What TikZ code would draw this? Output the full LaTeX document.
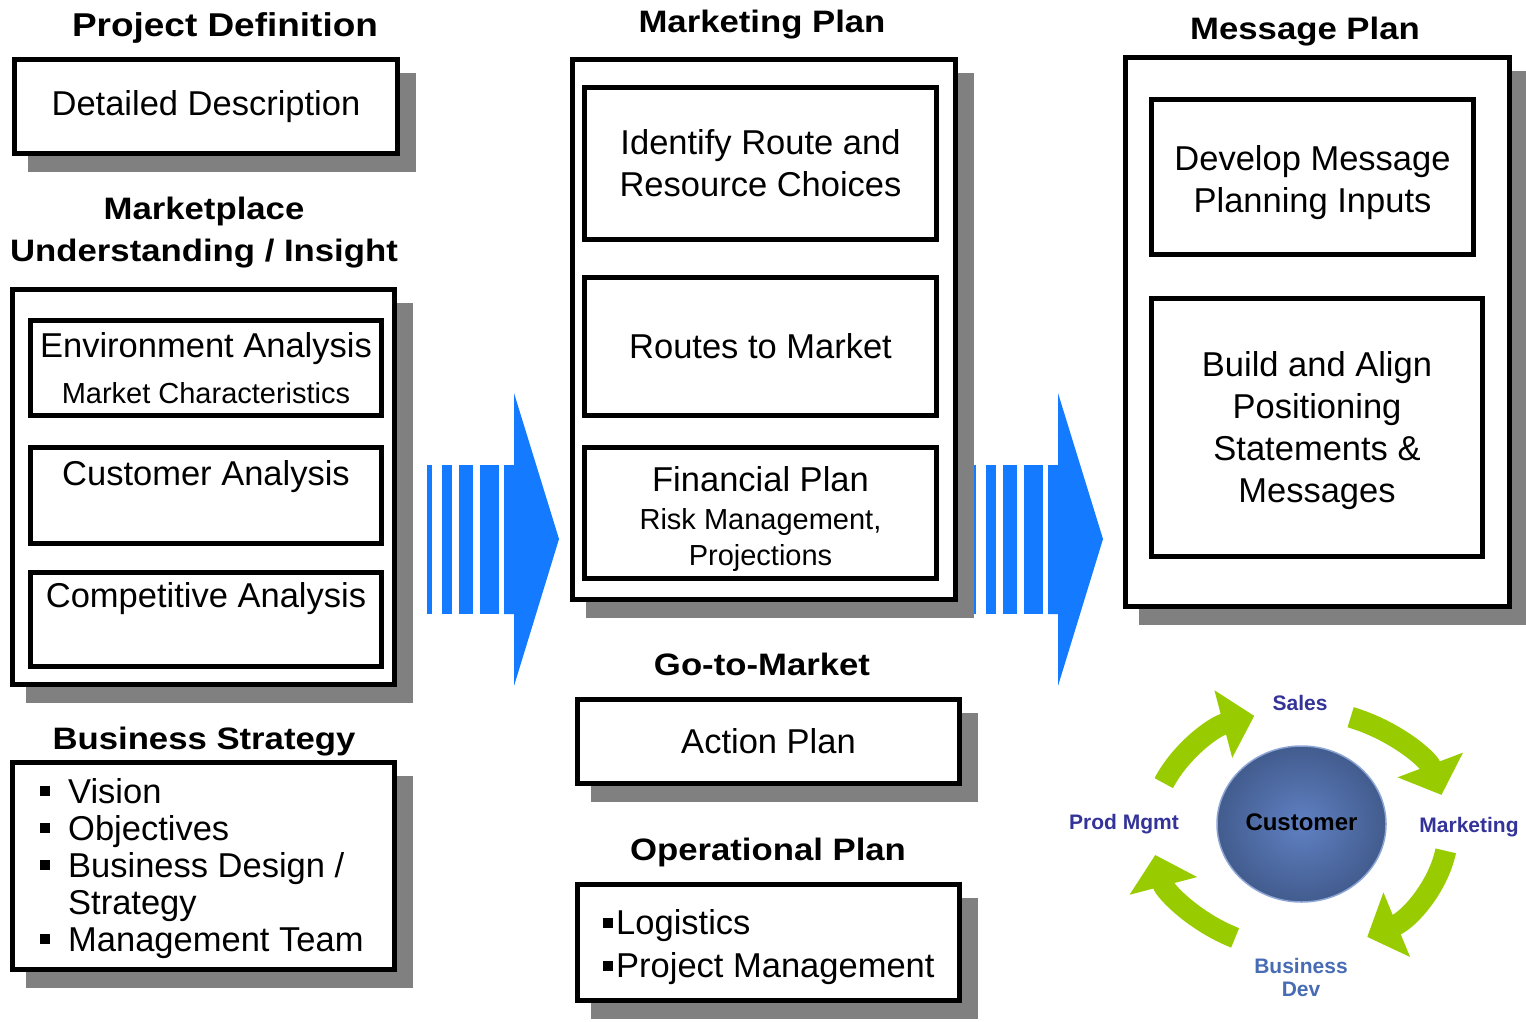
\documentclass[tikz,border=0pt]{standalone}
\usepackage{fontspec}
\setmainfont{Liberation Sans}
\newfontfamily\headfont{Liberation Sans}[FakeStretch=1.12]
\usepackage{tikz}
\usetikzlibrary{arrows.meta,shapes.geometric,shadows}

\definecolor{shadowgray}{RGB}{128,128,128}
\definecolor{flowblue}{RGB}{20,122,255}
\definecolor{cyclegreen}{RGB}{153,204,0}
\definecolor{labelblue}{RGB}{51,51,153}
\definecolor{devblue}{RGB}{72,108,180}
\definecolor{ballin}{RGB}{96,128,194}
\definecolor{ballout}{RGB}{66,92,142}
\definecolor{ballrim}{RGB}{140,165,212}

\newcommand{\sqbullet}{\rule[7pt]{10pt}{10pt}}
\newcommand{\smallsize}{\fontsize{29}{35}\selectfont}

\tikzset{
  panel/.style={draw, fill=white, line width=5pt, inner sep=0pt,
    general shadow={fill=shadowgray, draw=shadowgray, shadow xshift=16pt, shadow yshift=-16pt}},
  inbox/.style={draw, fill=white, line width=5pt, inner sep=0pt},
  title/.style={font=\fontsize{31}{42}\selectfont\headfont\bfseries, inner sep=0pt, anchor=base, align=center},
  body/.style={font=\fontsize{34.5}{42}\selectfont, align=center, inner sep=0pt},
  cyclabel/.style={font=\fontsize{21}{23}\selectfont\bfseries, text=labelblue, align=center, inner sep=0pt},
  cycarrow/.style={cyclegreen, line width=21pt, -{Triangle[width=68pt,length=32pt]}}
}

\begin{document}
\begin{tikzpicture}[x=1pt, y=-1pt]

\useasboundingbox (0,0) rectangle (1526,1021);

% left column
\node[title, font=\fontsize{33}{42}\selectfont\headfont\bfseries] (tdef) at (225,36) {Project Definition};
\node[panel, body, minimum width=383pt, minimum height=94pt] (desc) at (206,106.5) {Detailed Description};

\node[title, anchor=north] (tmkt) at (204,197) {Marketplace\\Understanding / Insight};
\node[panel, minimum width=382pt, minimum height=395pt] (market) at (203.5,487) {};
\node[inbox, body, minimum width=351pt, minimum height=95pt] (env) at (206,368)
  {Environment Analysis\\[4pt]{\smallsize Market Characteristics}};
\node[inbox, minimum width=351pt, minimum height=96pt] (cust) at (206,495.5) {};
\node[inbox, minimum width=351pt, minimum height=94pt] (comp) at (206,619.5) {};
\node[body, anchor=base] (custtxt) at (206,485) {Customer Analysis};
\node[body, anchor=base] (comptxt) at (206,607) {Competitive Analysis};

\node[title] (tstrat) at (204,749) {Business Strategy};
\node[panel, minimum width=382pt, minimum height=207pt] (strat) at (203.5,866) {};
\node[inner sep=0pt, anchor=north west, font=\fontsize{34.5}{37}\selectfont] (stratlist) at (40,777)
  {\begin{tabular}{@{}p{28pt}@{}l@{}}
   \sqbullet & Vision\\
   \sqbullet & Objectives\\
   \sqbullet & Business Design /\\
             & Strategy\\
   \sqbullet & Management Team
   \end{tabular}};

% flow arrows
\foreach \s in {427,971} {
  \foreach \a/\b in {0/5, 15/25, 32/46, 53/72}
    \fill[flowblue] (\s+\a,465) rectangle (\s+\b,614);
  \fill[flowblue] (\s+77,465) -- (\s+87,465) -- (\s+87,393) -- (\s+132,539)
    -- (\s+87,686) -- (\s+87,614) -- (\s+77,614) -- cycle;
}

% middle column
\node[title] (tmplan) at (762,32) {Marketing Plan};
\node[panel, minimum width=383pt, minimum height=540pt] (mplan) at (764,329.5) {};
\node[inbox, body, minimum width=352pt, minimum height=152pt] (route) at (760.5,163.5)
  {Identify Route and\\Resource Choices};
\node[inbox, body, minimum width=352pt, minimum height=138pt] (rtm) at (760.5,346.5)
  {Routes to Market};
\node[inbox, body, minimum width=352pt, minimum height=131pt] (fin) at (760.5,513)
  {\rule{0pt}{36pt}Financial Plan\\[-4pt]{\smallsize Risk Management,}\\[-6pt]{\smallsize Projections}};

\node[title] (tgtm) at (762,675) {Go-to-Market};
\node[panel, body, minimum width=382pt, minimum height=84pt] (action) at (768.5,741.5) {Action Plan};

\node[title] (tops) at (768,860) {Operational Plan};
\node[panel, minimum width=382pt, minimum height=116pt] (ops) at (768.5,942.5) {};
\node[inner sep=0pt, anchor=north west, align=left, font=\fontsize{34.5}{43}\selectfont] (opslist) at (603,909)
  {\rule[6pt]{10pt}{10pt}\hspace{3pt}Logistics\\\rule[6pt]{10pt}{10pt}\hspace{3pt}Project Management};

% right column
\node[title] (tmsg) at (1305,39) {Message Plan};
\node[panel, minimum width=384pt, minimum height=549pt] (msg) at (1317.5,332) {};
\node[inbox, body, minimum width=322pt, minimum height=155pt] (dev) at (1312.5,177)
  {\rule{0pt}{36pt}Develop Message\\Planning Inputs};
\node[inbox, body, minimum width=331pt, minimum height=258pt] (build) at (1317,427.5)
  {\rule{0pt}{32pt}Build and Align\\Positioning\\Statements \&\\Messages};

% customer cycle
\coordinate (hub) at (1300,830);
\foreach \a/\b in {-157/-108, -70/-17, 10/63, 116/168}
  \draw[cycarrow] ([shift={(\a:148 and 120)}]hub) arc[start angle=\a, end angle=\b, x radius=148, y radius=120];

\node[ellipse, minimum width=169pt, minimum height=156pt, inner sep=0pt, shade, inner color=ballin,
  outer color=ballout, draw=ballrim, line width=1.5pt, font=\fontsize{24}{28}\selectfont\bfseries] (ball)
  at (1301.5,824) {\raisebox{3pt}{Customer}};

\node[cyclabel] (sales) at (1300,703) {Sales};
\node[cyclabel] (mktg) at (1469,827) {Marketing};
\node[cyclabel] (prod) at (1124,824) {Prod Mgmt};
\node[cyclabel, text=devblue] (bdev) at (1301,977) {Business\\Dev};

\end{tikzpicture}
\end{document}
